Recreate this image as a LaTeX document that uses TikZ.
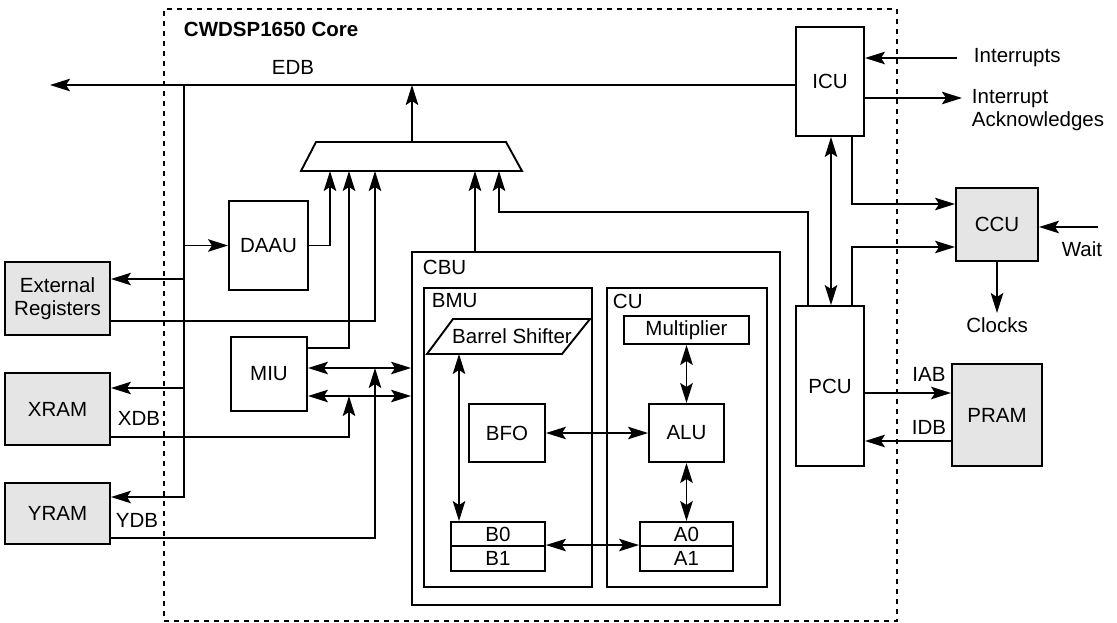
\documentclass[tikz,border=0pt]{standalone}
\usepackage{fontspec}
\setmainfont{Liberation Sans}
\usetikzlibrary{arrows.meta}
\newcommand\myfs{\fontsize{20.5}{23}\selectfont}
\begin{document}
\begin{tikzpicture}[x=1pt,y=-1pt,line width=1.9pt,
  >={Stealth[length=20pt,width=12.5pt,inset=4pt]},
  box/.style={draw,fill=white,inner sep=0pt,font=\myfs,align=center},
  gbox/.style={box,fill=gray!20},
  lbl/.style={inner sep=0pt,font=\myfs,align=left},
  thinline/.style={line width=1.3pt}]
\useasboundingbox (0,0) rectangle (1117,622);

% core boundary
\node[draw,dash pattern=on 5pt off 5pt,minimum width=733pt,minimum height=612pt,inner sep=0pt] (core) at (530.5,315) {};
\node[lbl,font=\myfs\bfseries,anchor=west] (title) at (183,29) {CWDSP1650 Core};

% top-level units
\node[box,minimum width=68pt,minimum height=109pt] (icu) at (830,81.5) {ICU};
\node[box,minimum width=68pt,minimum height=160pt] (pcu) at (830,386) {PCU};
\node[gbox,minimum width=82pt,minimum height=73pt] (ccu) at (997,224.5) {CCU};
\node[gbox,minimum width=90pt,minimum height=102pt] (pram) at (997,415) {PRAM};
\node[gbox,minimum width=105pt,minimum height=73pt] (ext) at (57.5,298.5) {External\\Registers};
\node[gbox,minimum width=105pt,minimum height=72pt] (xram) at (57.5,409) {XRAM};
\node[gbox,minimum width=105pt,minimum height=61pt] (yram) at (57.5,513.5) {YRAM};
\node[box,minimum width=79pt,minimum height=89pt] (daau) at (268.5,245.5) {DAAU};
\node[box,minimum width=76pt,minimum height=74pt] (miu) at (269,374) {MIU};

% CBU
\node[box,minimum width=368pt,minimum height=353pt] (cbu) at (596,428.5) {};
\node[lbl,anchor=west] (cbul) at (422,267) {CBU};
\node[box,minimum width=168pt,minimum height=299pt] (bmu) at (508,437.5) {};
\node[lbl,anchor=west] (bmul) at (431,301) {BMU};
\node[box,minimum width=160pt,minimum height=299pt] (cu) at (687,437.5) {};
\node[lbl,anchor=west] (cul) at (612,301) {CU};

\draw[fill=white] (427,354) -- (453,319) -- (590,319) -- (562,354) -- cycle;
\node[lbl] (bs) at (512,336) {Barrel Shifter};
\coordinate (bsb) at (459,354);

\node[box,minimum width=125pt,minimum height=28pt] (mult) at (686.5,330) {Multiplier};
\node[box,minimum width=75pt,minimum height=58pt] (alu) at (686.5,433) {ALU};
\node[box,minimum width=76pt,minimum height=58pt] (bfo) at (507,433) {BFO};
\node[box,minimum width=94pt,minimum height=24pt] (b0) at (498,534) {B0};
\node[box,minimum width=94pt,minimum height=25pt] (b1) at (498,558.5) {B1};
\node[box,minimum width=93pt,minimum height=24pt] (a0) at (686.5,534) {A0};
\node[box,minimum width=93pt,minimum height=25pt] (a1) at (686.5,558.5) {A1};

% multiplexer
\draw (301,171) -- (316,142) -- (506,142) -- (522,171) -- cycle;
\coordinate (mtop) at (412,142);
\coordinate (m1) at (330,171);
\coordinate (m2) at (349,171);
\coordinate (m3) at (375,171);
\coordinate (m4) at (475,171);
\coordinate (m5) at (499,171);

% EDB bus
\coordinate (edbend) at (50,85);
\coordinate (bustop) at (184,85);
\coordinate (jY) at (184,497);
\draw[->] (icu.west |- edbend) -- (edbend);
\node[lbl] (edb) at (293,67) {EDB};
\draw[->] (mtop) -- (mtop |- edbend);
\draw[->] (bustop) -- (jY) -- (jY -| yram.east);
\draw[->] (bustop |- daau.west) -- (daau.west);
\draw[->] (184,279) -- (ext.east |- 0,279);
\draw[->] (184,388) -- (xram.east |- 0,388);

% into multiplexer
\draw[->] (daau.east) -| (m1);
\draw[->] (miu.east |- 0,348) -| (m2);
\draw[->] (ext.east |- 0,321) -| (m3);
\draw[->] (cbu.north -| m4) -- (m4);
\draw[->] (pcu.north -| 808,0) |- (m5 |- 0,212) -- (m5);

% MIU - CBU
\draw[<->] (miu.east |- 0,368) -- (cbu.west |- 0,368);
\draw[<->] (miu.east |- 0,396) -- (cbu.west |- 0,396);
\draw[->] (xram.east |- 0,437) -| (349,396);
\draw[->] (yram.east |- 0,538) -| (375,368);
\node[lbl,anchor=west] (xdb) at (117,418) {XDB};
\node[lbl,anchor=west] (ydb) at (115,520) {YDB};

% right side
\draw[<->] (icu.south -| 831,0) -- (pcu.north -| 831,0);
\draw[->] (icu.south -| 852,0) |- (ccu.west |- 0,204);
\draw[->] (pcu.north -| 852,0) |- (ccu.west |- 0,247);
\coordinate (intin) at (957,58);
\draw[->] (intin) -- (icu.east |- intin);
\node[lbl,anchor=west] (intl) at (973,58) {Interrupts};
\coordinate (ackout) at (962,98);
\draw[->] (icu.east |- ackout) -- (ackout);
\node[lbl,anchor=north west] (ackl) at (971,88) {Interrupt\\Acknowledges};
\coordinate (waitin) at (1098,227);
\draw[->] (waitin) -- (ccu.east |- waitin);
\node[lbl] (waitl) at (1082,249) {Wait};
\coordinate (clk) at (997,313);
\draw[->] (ccu.south) -- (clk);
\node[lbl] (clkl) at (997,325) {Clocks};
\draw[->] (pcu.east |- 0,393) -- (pram.west |- 0,393);
\node[lbl] (iab) at (929,374) {IAB};
\draw[->] (pram.west |- 0,441) -- (pcu.east |- 0,441);
\node[lbl] (idb) at (929,427) {IDB};

% inside CBU
\draw[<->] (mult.south) -- (alu.north);
\draw[<->,thinline] (bfo.east) -- (alu.west);
\draw[<->] (alu.south) -- (a0.north);
\draw[<->,thinline] (b1.north east) -- (a1.north west);
\draw[<->,thinline] (bsb) -- (b0.north -| bsb);
\end{tikzpicture}
\end{document}
